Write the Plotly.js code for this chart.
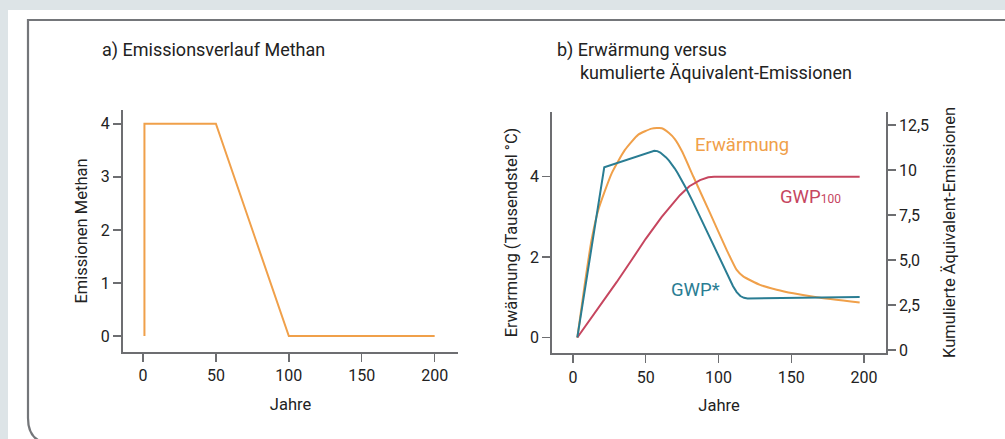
<!DOCTYPE html>
<html>
<head>
<meta charset="utf-8">
<script src="https://cdn.plot.ly/plotly-3.0.1.min.js"></script>
<style>html,body{margin:0;padding:0;background:#dde4e7;}#chart{width:1005px;height:439px;}</style>
</head>
<body>
<div id="chart"></div>
<script>
// Panel a: methane emission profile
const yearsA = [1, 1, 50, 100, 150, 200];
const emissionsMethan = [0, 4, 4, 0, 0, 0];

// Panel b: warming (left axis)
const yearsWarm = [3, 8.2, 12.8, 17.4, 26.6, 35.7, 44.9, 54.1, 61, 66, 70, 75, 82.7, 94.2, 105.6, 112.5, 117, 128.5, 140, 151.4, 167.5, 197];
const warming   = [0, 1.35, 2.43, 3.17, 4.08, 4.66, 5.04, 5.19, 5.2, 5.08, 4.93, 4.62, 4.0, 3.09, 2.18, 1.68, 1.52, 1.31, 1.19, 1.10, 1.0, 0.87];

// Panel b: cumulative equivalent emissions (right axis)
const yearsGwpStar = [3, 21.5, 55.9, 58, 60, 62, 64, 66, 68, 70, 72, 75, 78, 82, 87, 92, 96, 100, 104, 107, 110, 112.5, 115, 117.5, 120, 197];
const gwpStar      = [0.7, 10.15, 11.07, 11.05, 10.97, 10.85, 10.7, 10.52, 10.31, 10.08, 9.82, 9.4, 8.95, 8.3, 7.45, 6.6, 5.9, 5.2, 4.5, 4.0, 3.55, 3.22, 3.0, 2.9, 2.87, 2.95];

const yearsGwp100 = [3, 17.4, 30, 40.3, 50, 61, 67, 73.5, 80, 87.3, 93, 97, 197];
const gwp100      = [0.7, 2.33, 3.77, 5.0, 6.18, 7.4, 8.0, 8.6, 9.1, 9.44, 9.6, 9.63, 9.63];

const xTicks = [0, 50, 100, 150, 200];
const yTicksA = [0, 1, 2, 3, 4];
const yTicksB = [0, 2, 4];
const rightTickVals = [0, 2.5, 5, 7.5, 10, 12.5];
const rightTickText = ["0", "2,5", "5,0", "7,5", "10", "12,5"];

const W = 1005, H = 439;
const px = x => x / W;
const py = y => 1 - y / H;

const ORANGE = '#f0a04a', TEAL = '#2a7d93', RED = '#c6465f';
const AXC = '#6d6e71', TXT = '#222222';
const FONT = 'Roboto, "DejaVu Sans", sans-serif';

const axisBase = {
  showgrid: false, zeroline: false, showline: true, linecolor: AXC, linewidth: 2,
  ticks: 'outside', ticklen: 8, tickwidth: 1.5, tickcolor: AXC,
  tickfont: {family: FONT, size: 16, color: TXT}, fixedrange: true
};
const titleFont = {family: FONT, size: 16.5, color: TXT};

const traces = [
  {x: yearsA, y: emissionsMethan, xaxis: 'x', yaxis: 'y', mode: 'lines', line: {color: ORANGE, width: 2}, name: 'Emissionen'},
  {x: yearsGwp100, y: gwp100, xaxis: 'x2', yaxis: 'y3', mode: 'lines', line: {color: RED, width: 2}, name: 'GWP100'},
  {x: yearsGwpStar, y: gwpStar, xaxis: 'x2', yaxis: 'y3', mode: 'lines', line: {color: TEAL, width: 2}, name: 'GWP*'},
  {x: yearsWarm, y: warming, xaxis: 'x2', yaxis: 'y2', mode: 'lines', line: {color: ORANGE, width: 2, shape: 'spline', smoothing: 0.5}, name: 'Erwärmung'}
];

const layout = {
  width: W, height: H,
  margin: {l: 0, r: 0, t: 0, b: 0},
  paper_bgcolor: '#dde4e7', plot_bgcolor: 'rgba(0,0,0,0)',
  showlegend: false,
  font: {family: FONT, color: TXT},
  xaxis: Object.assign({}, axisBase, {domain: [px(123), px(458)], range: [-13.7, 216], tickvals: xTicks, anchor: 'y',
    title: {text: 'Jahre', font: titleFont, standoff: 14}}),
  yaxis: Object.assign({}, axisBase, {domain: [py(352), py(110)], range: [-0.30, 4.26], tickvals: yTicksA, anchor: 'x',
    title: {text: 'Emissionen Methan', font: titleFont, standoff: 9}}),
  xaxis2: Object.assign({}, axisBase, {domain: [px(552.3), px(885.7)], range: [-14.2, 214.9], tickvals: xTicks, anchor: 'y2',
    title: {text: 'Jahre', font: titleFont, standoff: 14}}),
  yaxis2: Object.assign({}, axisBase, {domain: [py(353.3), py(111.7)], range: [-0.39, 5.61], tickvals: yTicksB, anchor: 'x2',
    title: {text: 'Erwärmung (Tausendstel °C)', font: titleFont, standoff: 8}}),
  yaxis3: Object.assign({}, axisBase, {overlaying: 'y2', side: 'right', anchor: 'x2', range: [-0.18, 13.24],
    tickvals: rightTickVals, ticktext: rightTickText,
    title: {text: 'Kumulierte Äquivalent-Emissionen', font: titleFont, standoff: 15}}),
  shapes: [
    {type: 'rect', xref: 'paper', yref: 'paper', x0: px(8), x1: 1, y0: 0, y1: py(10), fillcolor: '#ffffff', line: {width: 0}, layer: 'below'},
    {type: 'path', xref: 'paper', yref: 'paper', layer: 'below',
      path: `M ${px(1005)},${py(20)} L ${px(28)},${py(20)} L ${px(28)},${py(418)} Q ${px(28)},${py(441)} ${px(48)},${py(443)}`,
      line: {color: '#74767a', width: 2.2}}
  ],
  annotations: [
    {xref: 'paper', yref: 'paper', x: px(100), y: py(50), xanchor: 'left', yanchor: 'middle', showarrow: false,
      text: 'a) Emissionsverlauf Methan', font: {family: FONT, size: 18, color: TXT}},
    {xref: 'paper', yref: 'paper', x: px(555), y: py(50), xanchor: 'left', yanchor: 'middle', showarrow: false,
      text: 'b) Erwärmung versus', font: {family: FONT, size: 18, color: TXT}},
    {xref: 'paper', yref: 'paper', x: px(578), y: py(72), xanchor: 'left', yanchor: 'middle', showarrow: false,
      text: 'kumulierte Äquivalent-Emissionen', font: {family: FONT, size: 18, color: TXT}},
    {xref: 'paper', yref: 'paper', x: px(741.7), y: py(145), xanchor: 'center', yanchor: 'middle', showarrow: false,
      text: 'Erwärmung', font: {family: FONT, size: 18.5, color: ORANGE}},
    {xref: 'paper', yref: 'paper', x: px(778), y: py(197), xanchor: 'left', yanchor: 'middle', showarrow: false,
      text: 'GWP<span style="font-size:12px">100</span>', font: {family: FONT, size: 18.5, color: RED}},
    {xref: 'paper', yref: 'paper', x: px(695), y: py(290), xanchor: 'center', yanchor: 'middle', showarrow: false,
      text: 'GWP*', font: {family: FONT, size: 18.5, color: TEAL}}
  ]
};

Plotly.newPlot('chart', traces, layout, {staticPlot: true, displayModeBar: false});
</script>
</body>
</html>
